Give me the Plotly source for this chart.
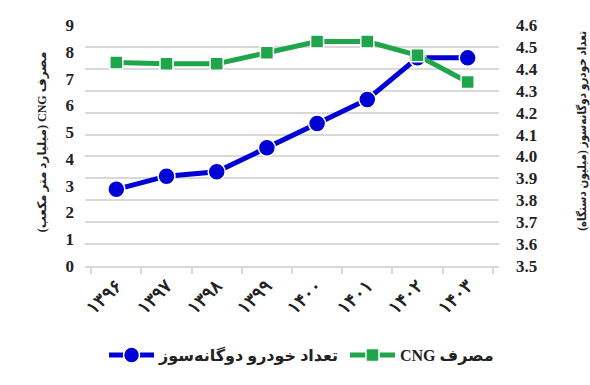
import plotly.graph_objects as go

years = ["۱۳۹۶", "۱۳۹۷", "۱۳۹۸", "۱۳۹۹", "۱۴۰۰", "۱۴۰۱", "۱۴۰۲", "۱۴۰۳"]
cng_use = [7.6, 7.55, 7.55, 7.96, 8.38, 8.38, 7.87, 6.87]          # billion m3 (left axis)
bifuel_cars = [3.85, 3.91, 3.93, 4.04, 4.15, 4.26, 4.45, 4.45]     # million units (right axis)

RLE, PDF = "\u202b", "\u202c"
name_cars = RLE + "تعداد خودرو دوگانه‌سوز" + PDF
name_cng = RLE + "مصرف CNG" + PDF
title_left = RLE + "مصرف CNG (میلیارد متر مکعب)" + PDF
title_right = RLE + "تعداد خودرو دوگانه‌سوز (میلیون دستگاه)" + PDF

blue = "#0000d4"
green = "#1fa64b"
grid = "#d9d9d9"
serif = "Liberation Serif, DejaVu Serif, serif"
mixed = "Liberation Serif, DejaVu Sans, sans-serif"
mixed_c = "Liberation Serif, DejaVu Sans Condensed, DejaVu Sans, sans-serif"

fig = go.Figure()
fig.add_trace(go.Scatter(
    x=years, y=bifuel_cars, name=name_cars, yaxis="y", mode="lines+markers", legend="legend",
    line=dict(color=blue, width=5),
    marker=dict(symbol="circle", size=17, color=blue, line=dict(color="white", width=1.5)),
))
fig.add_trace(go.Scatter(
    x=years, y=cng_use, name=name_cng, yaxis="y2", mode="lines+markers", legend="legend2",
    line=dict(color=green, width=5),
    marker=dict(symbol="square", size=13, color=green, line=dict(color="white", width=1.5)),
))

legend_font = dict(size=16, family=mixed, color="#222", weight="bold")
fig.update_layout(
    width=590, height=385,
    margin=dict(l=85, r=91, t=25, b=119),
    plot_bgcolor="white", paper_bgcolor="white",
    font=dict(family=serif, color="#222", size=16),
    showlegend=True,
    legend=dict(orientation="h", x=0.046, xanchor="left", y=-0.37, yanchor="middle",
                font=legend_font, itemwidth=45, bgcolor="rgba(0,0,0,0)"),
    legend2=dict(orientation="h", x=0.628, xanchor="left", y=-0.37, yanchor="middle",
                 font=legend_font, itemwidth=45, bgcolor="rgba(0,0,0,0)"),
    xaxis=dict(type="category", showline=True, linecolor=grid, linewidth=1.5, automargin=False,
               ticks="outside", tickson="boundaries", ticklen=6, tickcolor=grid, tickwidth=1.5,
               tickangle=-45, showgrid=False,
               tickfont=dict(size=18, family=serif, color="#222", weight="bold")),
    yaxis=dict(side="right", range=[3.5, 4.6], dtick=0.1, tick0=3.5, tickformat=".1f",
               showgrid=True, gridcolor=grid, gridwidth=1.5, zeroline=False, automargin=False,
               ticks="", ticklabelstandoff=16,
               tickfont=dict(size=17, family=serif, color="#222", weight="bold")),
    yaxis2=dict(side="left", overlaying="y", range=[0, 9], dtick=1, showgrid=False, zeroline=False,
                automargin=False, ticks="", ticklabelstandoff=10,
                tickfont=dict(size=17, family=serif, color="#222", weight="bold")),
    annotations=[
        dict(text=title_left, textangle=-90, xref="paper", yref="paper", x=-0.104, y=0.517,
             xanchor="center", yanchor="middle", showarrow=False,
             font=dict(size=12, family=mixed, color="#222", weight="bold")),
        dict(text=title_right, textangle=-90, xref="paper", yref="paper", x=1.2, y=0.56,
             xanchor="center", yanchor="middle", showarrow=False,
             font=dict(size=11.5, family=mixed_c, color="#222", weight="bold")),
    ],
)

fig.write_html("out.html")
